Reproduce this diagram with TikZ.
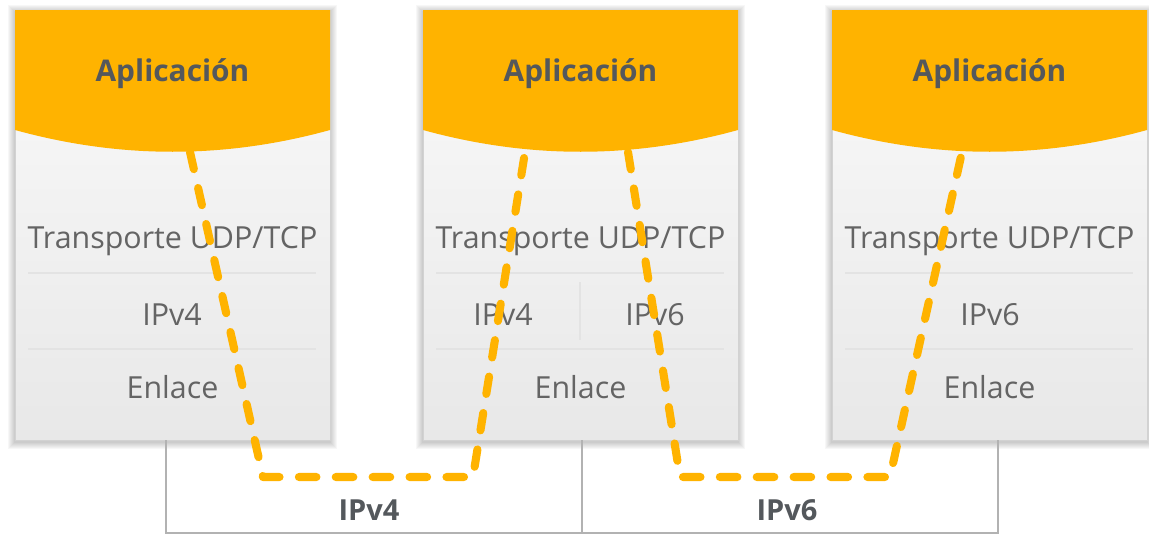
\documentclass[tikz,border=0pt]{standalone}
\usepackage{fontspec}
\setmainfont{Open Sans}
\usetikzlibrary{positioning,calc}
\definecolor{appyellow}{RGB}{255,179,0}
\definecolor{layergray}{RGB}{100,100,100}
\definecolor{titlegray}{RGB}{84,88,92}

\begin{document}
\begin{tikzpicture}[x=0.02cm,y=-0.02cm,
  stackbox/.style={shape=rectangle, anchor=north west, minimum width=6.3cm, minimum height=8.6cm,
                   inner sep=0pt, draw=gray!35, line width=0.4pt, top color=white!96!gray, bottom color=gray!18},
  apptext/.style={text=titlegray, font=\fontsize{17}{20}\selectfont\bfseries},
  layertext/.style={text=layergray, font=\fontsize{17.3}{20}\selectfont},
  netlabel/.style={text=titlegray, font=\fontsize{16.5}{19}\selectfont\bfseries},
  sepline/.style={draw=gray!22, line width=0.9pt},
  netline/.style={draw=gray!60, line width=0.8pt},
  tunnel/.style={draw=appyellow, line width=4.6pt, line cap=round, line join=round, dash pattern=on 10pt off 11pt},
]
\useasboundingbox (0,0) rectangle (1149,534);

% three hosts: shadow, box, application head, common layers
\foreach \bx/\nm in {15/L,423/M,832/R}{
  \begin{scope}[shift={(\bx,10)}]
    \foreach \s in {1,...,7}
      \fill[black, opacity=0.03] (-\s,-\s+2) rectangle (315+\s,430+\s+2);
    \node[stackbox] (\nm) at (0,0) {};
    \fill[appyellow] (0,0) -- (315,0) -- (315,120) .. controls (210,149) and (105,149) .. (0,120) -- cycle;
    \node[apptext] (\nm-app) at (157.5,64) {Aplicación};
    \node[layertext] (\nm-tr) at (157.5,231) {Transporte UDP/TCP};
    \draw[sepline] (13,263) -- (301,263) (13,339) -- (301,339);
    \node[layertext] (\nm-en) at (157.5,377) {Enlace};
  \end{scope}
}

% network layers
\node[layertext] (L-ip)  at (172,315) {IPv4};
\node[layertext] (M-ip4) at (503,315) {IPv4};
\node[layertext] (M-ip6) at (655,315) {IPv6};
\node[layertext] (R-ip)  at (990,315) {IPv6};
\draw[sepline] (580,282) -- (580,340);

% links below the hosts
\coordinate (L-foot) at (166,440);
\coordinate (M-foot) at (582,440);
\coordinate (R-foot) at (998,440);
\draw[netline] (L-foot) -- (L-foot |- 0,533) -- (R-foot |- 0,533) -- (R-foot);
\draw[netline] (M-foot) -- (M-foot |- 0,533);
\node[netlabel] (net4) at (369,510) {IPv4};
\node[netlabel] (net6) at (787,510) {IPv6};

% paths through the stacks
\coordinate (L-port)  at (190,152);
\coordinate (L-down)  at (263,477);
\coordinate (M-down4) at (473,477);
\coordinate (M-port4) at (525,152);
\coordinate (M-port6) at (628,152);
\coordinate (M-down6) at (680,477);
\coordinate (R-down)  at (890,477);
\coordinate (R-port)  at (962,152);
\draw[tunnel] (L-port) -- (L-down) -- (M-down4) -- (M-port4);
\draw[tunnel] (M-port6) -- (M-down6) -- (R-down) -- (R-port);
\end{tikzpicture}
\end{document}
